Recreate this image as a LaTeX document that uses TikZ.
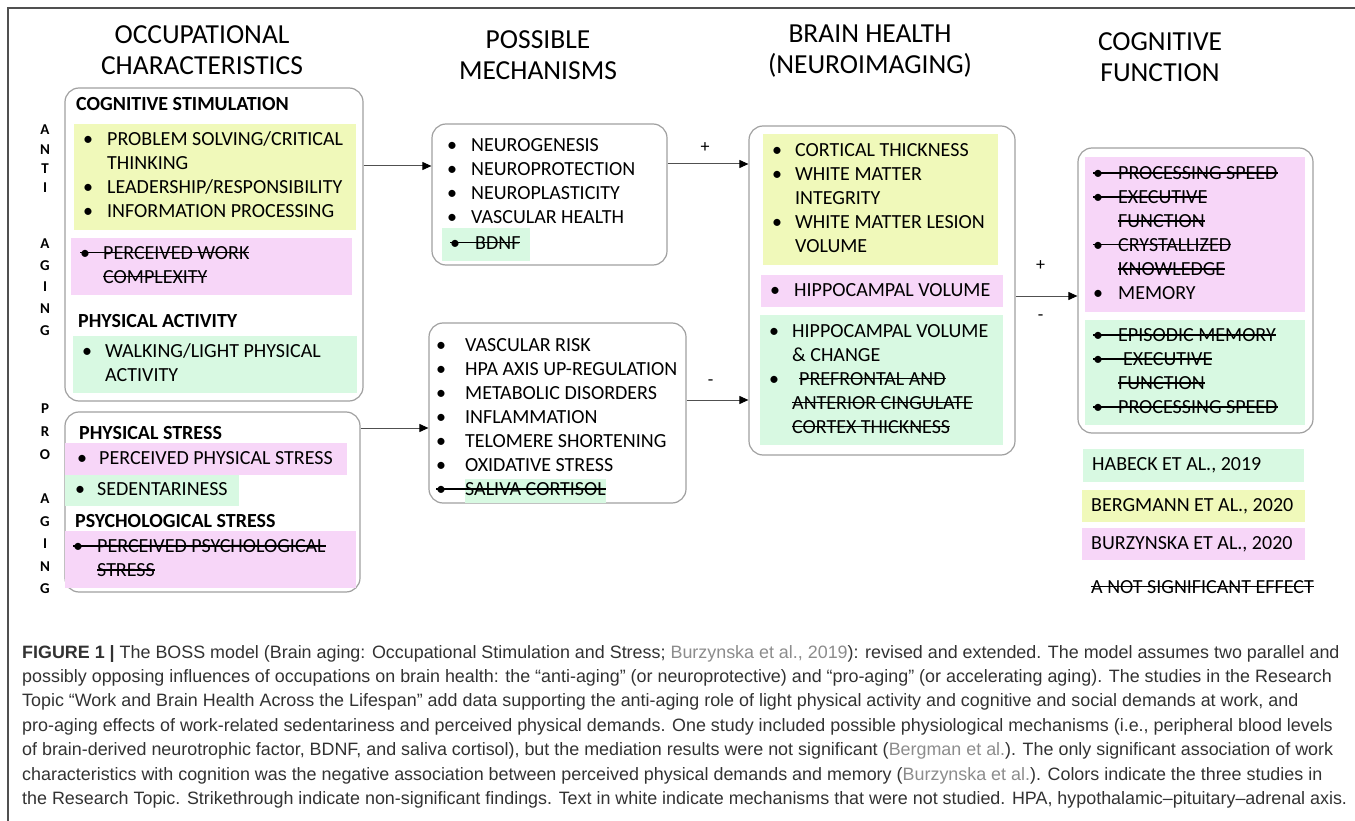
\documentclass[tikz,border=0pt]{standalone}
\usepackage{fontspec}
\setmainfont{Carlito}
\newfontfamily\capfont{Liberation Sans}
\usepackage{xcolor}
\usepackage{tikz}
\usetikzlibrary{arrows.meta}

\definecolor{bergY}{RGB}{240,249,186}
\definecolor{burzP}{RGB}{247,214,248}
\definecolor{habG}{RGB}{216,249,226}
\definecolor{wrapgray}{RGB}{160,160,160}
\definecolor{linegray}{RGB}{80,80,80}
\definecolor{captxt}{RGB}{50,50,50}
\definecolor{citegray}{RGB}{140,140,140}

\setlength{\fboxsep}{0pt}
\newcommand{\bul}[1][24pt]{\strut\makebox[#1][l]{\textbullet}}
\newcommand{\ind}[1][24pt]{\strut\hspace*{#1}}
\newsavebox{\strkbox}
\newcommand{\strk}[1]{\sbox{\strkbox}{#1}\usebox{\strkbox}\llap{\rule[0.3em]{\wd\strkbox}{1.5pt}}}

\tikzset{
    wrap/.style = {draw=wrapgray, line width=1.2pt, rounded corners=14pt, inner sep=0pt},
    cell/.style = {anchor=north west, inner sep=0pt},
    ycell/.style = {cell, fill=bergY},
    pcell/.style = {cell, fill=burzP},
    gcell/.style = {cell, fill=habG},
    items/.style = {anchor=west, inner sep=0pt, align=left, font=\fontsize{20}{24}\selectfont},
    group/.style = {anchor=west, inner sep=0pt, font=\bfseries\fontsize{20}{24}\selectfont},
    colhead/.style = {align=center, inner sep=0pt, font=\fontsize{27.5}{31}\selectfont},
    side/.style = {align=center, inner sep=0pt},
    sign/.style = {inner sep=0pt, font=\fontsize{18}{20}\selectfont},
    flow/.style = {draw=linegray, line width=1pt, ->}
}

\begin{document}
\begin{tikzpicture}[x=1pt, y=-1pt, >={Triangle[length=9pt,width=8pt,color=black]}]
    \useasboundingbox (0,0) rectangle (1355,821);
    \draw[linegray, line width=1.5pt] (8,821) -- (8,8) -- (1355,8);

    % column heads
    \node[colhead] (occHead) at (202,50.5) {OCCUPATIONAL\\CHARACTERISTICS};
    \node[colhead] (mechHead) at (538,55) {POSSIBLE\\MECHANISMS};
    \node[colhead] (brainHead) at (870,51.5) {BRAIN HEALTH\\(NEUROIMAGING)};
    \node[colhead] (cogHead) at (1160,57) {COGNITIVE\\FUNCTION};

    % anti / pro aging letters
    \node[side, font=\bfseries\fontsize{15}{19.3}\selectfont] (antiLbl) at (45,159) {A\\N\\T\\I};
    \node[side, font=\bfseries\fontsize{15}{21.8}\selectfont] (antiAging) at (45,287) {A\\G\\I\\N\\G};
    \node[side, font=\bfseries\fontsize{15}{23}\selectfont] (proLbl) at (45,432) {P\\R\\O};
    \node[side, font=\bfseries\fontsize{15}{22.5}\selectfont] (proAging) at (45,544) {A\\G\\I\\N\\G};

    % occupational characteristics
    \node[wrap, minimum width=298pt, minimum height=313pt] (occAnti) at (214,244.5) {};
    \node[group] (cogStim) at (76,104) {COGNITIVE STIMULATION};
    \node[ycell, minimum width=282pt, minimum height=106pt] (cogFill) at (74,124) {};
    \node[items] (cogTxt) at ([xshift=9pt]cogFill.west)
        {\bul PROBLEM SOLVING/CRITICAL\\ \ind THINKING\\ \bul LEADERSHIP/RESPONSIBILITY\\ \bul INFORMATION PROCESSING};
    \node[pcell, minimum width=281pt, minimum height=57pt] (workFill) at (71,238) {};
    \node[items] (workTxt) at ([xshift=9pt]workFill.west)
        {\strk{\bul[23pt]PERCEIVED WORK}\\ \ind[23pt]\strk{COMPLEXITY}};
    \node[group] (physAct) at (78,321) {PHYSICAL ACTIVITY};
    \node[gcell, minimum width=284pt, minimum height=57pt] (walkFill) at (73,336) {};
    \node[items] (walkTxt) at ([xshift=9pt]walkFill.west)
        {\bul[23pt]WALKING/LIGHT PHYSICAL\\ \ind[23pt]ACTIVITY};

    \node[wrap, minimum width=295pt, minimum height=180pt] (occPro) at (212.5,502) {};
    \node[group] (physStress) at (79,433) {PHYSICAL STRESS};
    \node[pcell, minimum width=282pt, minimum height=32pt] (physFill) at (65,443) {};
    \node[items] (physTxt) at ([xshift=12pt]physFill.west) {\bul[22pt]PERCEIVED PHYSICAL STRESS};
    \node[gcell, minimum width=174pt, minimum height=31pt] (sedFill) at (65,475) {};
    \node[items] (sedTxt) at ([xshift=10pt]sedFill.west) {\bul[22pt]SEDENTARINESS};
    \node[group] (psychStress) at (75,521) {PSYCHOLOGICAL STRESS};
    \node[pcell, minimum width=291pt, minimum height=57pt] (psychFill) at (65,531) {};
    \node[items] (psychTxt) at ([xshift=8pt]psychFill.west)
        {\strk{\bul PERCEIVED PSYCHOLOGICAL}\\ \ind\strk{STRESS}};

    % possible mechanisms
    \node[wrap, minimum width=235pt, minimum height=141pt] (mechPlus) at (549.5,194.5) {};
    \node[items] (plusTxt) at (447,183)
        {\bul NEUROGENESIS\\ \bul NEUROPROTECTION\\ \bul NEUROPLASTICITY\\ \bul VASCULAR HEALTH};
    \node[gcell, minimum width=88pt, minimum height=33pt] (bdnfFill) at (442,228) {};
    \node[items] (bdnfTxt) at ([xshift=8pt]bdnfFill.west) {\strk{\bul[25pt]BDNF}};

    \node[wrap, minimum width=257pt, minimum height=180pt] (mechMinus) at (557.5,413) {};
    \node[items] (minusTxt) at (436,418.7)
        {\bul[29pt]VASCULAR RISK\\ \bul[29pt]HPA AXIS UP-REGULATION\\ \bul[29pt]METABOLIC DISORDERS\\
         \bul[29pt]INFLAMMATION\\ \bul[29pt]TELOMERE SHORTENING\\ \bul[29pt]OXIDATIVE STRESS\\
         \strk{\bul[29pt]\colorbox{habG}{\strut SALIVA CORTISOL}}};

    % brain health
    \node[wrap, minimum width=266pt, minimum height=329pt] (brain) at (882,290.5) {};
    \node[ycell, minimum width=235pt, minimum height=131pt] (brainYFill) at (763,134) {};
    \node[items] (brainYTxt) at ([xshift=9pt]brainYFill.west)
        {\bul[23pt]CORTICAL THICKNESS\\ \bul[23pt]WHITE MATTER\\ \ind[23pt]INTEGRITY\\ \bul[23pt]WHITE MATTER LESION\\ \ind[23pt]VOLUME};
    \node[pcell, minimum width=242pt, minimum height=32pt] (brainPFill) at (761,275) {};
    \node[items] (brainPTxt) at ([xshift=9pt]brainPFill.west) {\bul HIPPOCAMPAL VOLUME};
    \node[gcell, minimum width=243pt, minimum height=130pt] (brainGFill) at (760,315) {};
    \node[items] (brainGTxt) at ([xshift=9pt]brainGFill.west)
        {\bul[23pt]HIPPOCAMPAL VOLUME\\ \ind[23pt]\& CHANGE\\ \bul[30pt]\strk{PREFRONTAL AND}\\
         \ind[23pt]\strk{ANTERIOR CINGULATE}\\ \ind[23pt]\strk{CORTEX THICKNESS}};

    % cognitive function
    \node[wrap, minimum width=235pt, minimum height=285pt] (cog) at (1195.5,290.5) {};
    \node[pcell, minimum width=220pt, minimum height=155pt] (cogPFill) at (1085,157) {};
    \node[items] (cogPTxt) at ([xshift=8pt]cogPFill.west)
        {\strk{\bul[25pt]PROCESSING SPEED}\\ \strk{\bul[25pt]EXECUTIVE}\\ \ind[25pt]\strk{FUNCTION}\\
         \strk{\bul[25pt]CRYSTALLIZED}\\ \ind[25pt]\strk{KNOWLEDGE}\\ \bul[25pt]MEMORY};
    \node[gcell, minimum width=220pt, minimum height=105pt] (cogGFill) at (1085,320) {};
    \node[items] (cogGTxt) at ([xshift=8pt]cogGFill.west)
        {\strk{\bul[25pt]EPISODIC MEMORY}\\ \strk{\bul[30pt]EXECUTIVE}\\ \ind[25pt]\strk{FUNCTION}\\
         \strk{\bul[25pt]PROCESSING SPEED}};

    % legend
    \node[gcell, minimum width=221pt, minimum height=33pt] (habFill) at (1083,449) {};
    \node[items] (habTxt) at ([xshift=9pt]habFill.west) {HABECK ET AL., 2019};
    \node[ycell, minimum width=223pt, minimum height=32pt] (bergFill) at (1082,490) {};
    \node[items] (bergTxt) at ([xshift=9pt]bergFill.west) {BERGMANN ET AL., 2020};
    \node[pcell, minimum width=223pt, minimum height=32pt] (burzFill) at (1082,528) {};
    \node[items] (burzTxt) at ([xshift=9pt]burzFill.west) {BURZYNSKA ET AL., 2020};
    \node[items] (nsTxt) at (1091,587) {\strk{A NOT SIGNIFICANT EFFECT}};

    % arrows
    \coordinate (inPlus) at ([yshift=28.5pt]mechPlus.west);
    \coordinate (inMinus) at ([yshift=-15pt]mechMinus.west);
    \coordinate (inBrainA) at ([yshift=126.5pt]brain.west);
    \coordinate (inBrainB) at ([yshift=-109.5pt]brain.west);
    \coordinate (inCog) at ([yshift=-5.5pt]cog.west);
    \draw[flow] (occAnti.east |- inPlus) -- (inPlus);
    \draw[flow] (occPro.east |- inMinus) -- (inMinus);
    \draw[flow] (mechPlus.east |- inBrainA) -- node[sign, yshift=16pt, xshift=-3pt] {+} (inBrainA);
    \draw[flow] (mechMinus.east |- inBrainB) -- node[sign, yshift=17pt, xshift=-7pt] {-} (inBrainB);
    \draw[flow] (brain.east |- inCog) -- node[sign, yshift=30pt, xshift=-6pt] {+} node[sign, yshift=-22pt, xshift=-6pt] {-} (inCog);

    % caption
    \node[anchor=north west, inner sep=0pt, align=left, text=captxt, font=\capfont\fontsize{17.9}{24.4}\selectfont] (caption) at (22,645)
        {{\bfseries FIGURE 1 |} The BOSS model (Brain aging: Occupational Stimulation and Stress; \textcolor{citegray}{Burzynska et al., 2019}): revised and extended. The model assumes two parallel and\\
         possibly opposing influences of occupations on brain health: the “anti-aging” (or neuroprotective) and “pro-aging” (or accelerating aging). The studies in the Research\\
         Topic “Work and Brain Health Across the Lifespan” add data supporting the anti-aging role of light physical activity and cognitive and social demands at work, and\\
         pro-aging effects of work-related sedentariness and perceived physical demands. One study included possible physiological mechanisms (i.e., peripheral blood levels\\
         of brain-derived neurotrophic factor, BDNF, and saliva cortisol), but the mediation results were not significant (\textcolor{citegray}{Bergman et al.}). The only significant association of work\\
         characteristics with cognition was the negative association between perceived physical demands and memory (\textcolor{citegray}{Burzynska et al.}). Colors indicate the three studies in\\
         the Research Topic. Strikethrough indicate non-significant findings. Text in white indicate mechanisms that were not studied. HPA, hypothalamic–pituitary–adrenal axis.};
\end{tikzpicture}
\end{document}
